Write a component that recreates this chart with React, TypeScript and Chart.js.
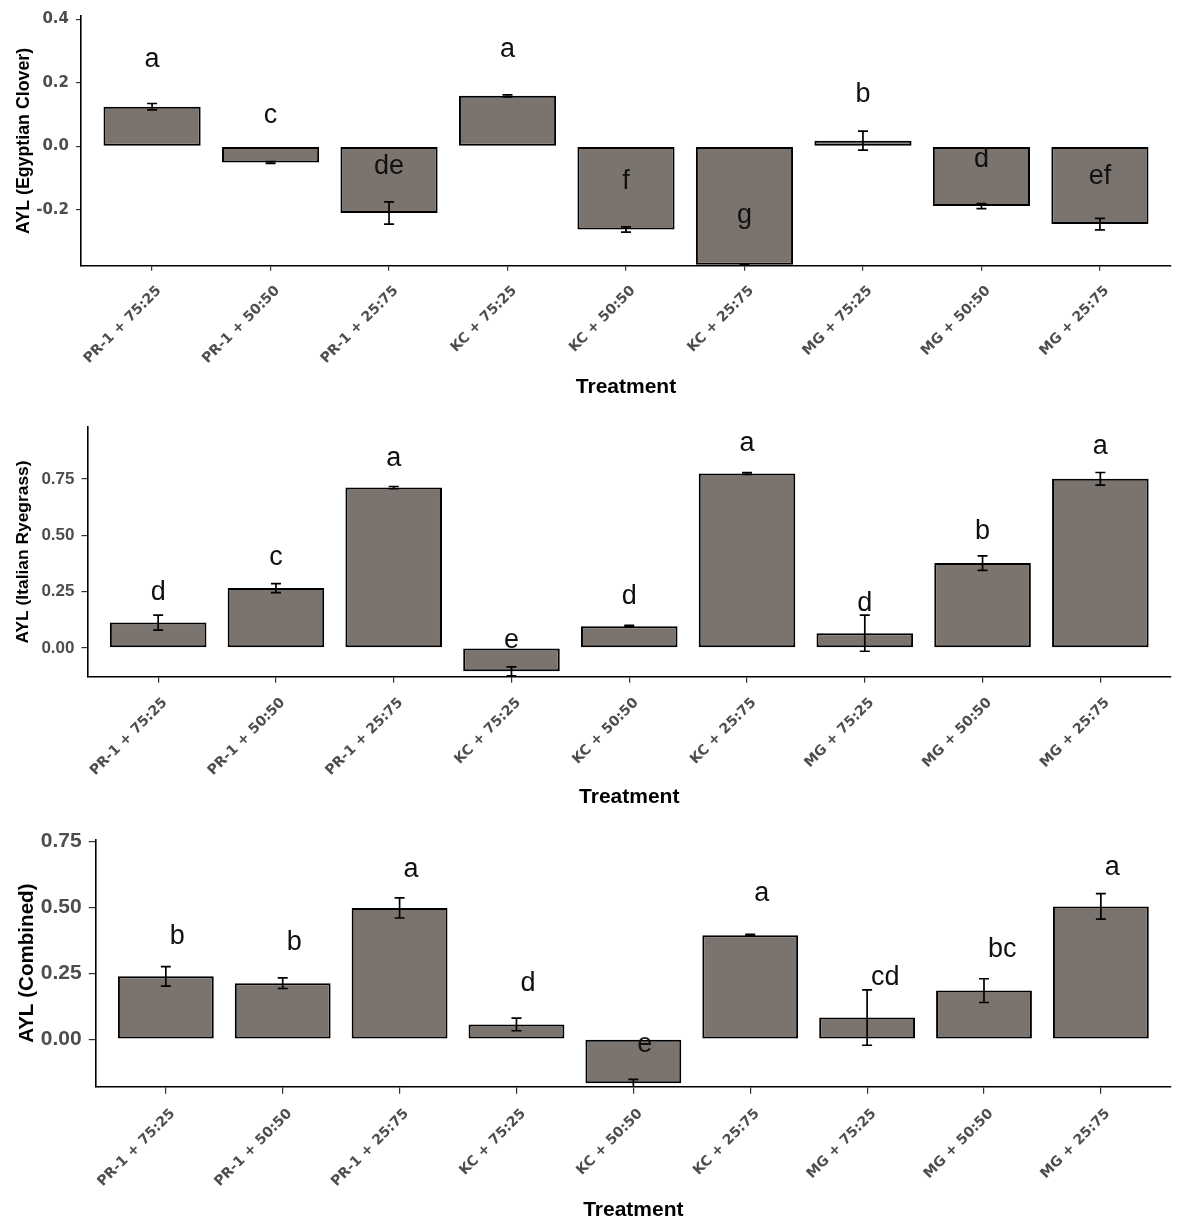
import React, { useEffect, useRef } from 'react';
import { Chart, registerables } from 'chart.js';

Chart.register(...registerables);

// treatments shared by the three panels
const treatments = [
  'PR-1 + 75:25', 'PR-1 + 50:50', 'PR-1 + 25:75',
  'KC + 75:25', 'KC + 50:50', 'KC + 25:75',
  'MG + 75:25', 'MG + 50:50', 'MG + 25:75',
];

// AYL Egyptian clover
const cloverMean = [0.125, -0.051, -0.21, 0.159, -0.262, -0.373, 0.018, -0.188, -0.245];
const cloverErr = [0.01, 0.003, 0.035, 0.003, 0.008, 0.003, 0.03, 0.008, 0.018];
const cloverLetters = ['a', 'c', 'de', 'a', 'f', 'g', 'b', 'd', 'ef'];
const cloverLetterY = [0.249, 0.073, -0.088, 0.283, -0.135, -0.24, 0.14, -0.065, -0.119];
const cloverTicks = [-0.2, 0, 0.2, 0.4];

// AYL Italian ryegrass
const ryegrassMean = [0.112, 0.265, 0.711, -0.104, 0.096, 0.774, 0.065, 0.376, 0.75];
const ryegrassErr = [0.033, 0.02, 0.005, 0.02, 0.004, 0.004, 0.08, 0.032, 0.028];
const ryegrassLetters = ['d', 'c', 'a', 'e', 'd', 'a', 'd', 'b', 'a'];
const ryegrassLetterY = [0.214, 0.367, 0.809, 0.0, 0.195, 0.872, 0.163, 0.483, 0.858];
const ryegrassTicks = [0, 0.25, 0.5, 0.75];

// AYL combined
const combinedMean = [0.238, 0.212, 0.497, 0.056, -0.167, 0.394, 0.082, 0.184, 0.503];
const combinedErr = [0.037, 0.02, 0.038, 0.024, 0.015, 0.003, 0.105, 0.045, 0.048];
const combinedLetters = ['b', 'b', 'a', 'd', 'e', 'a', 'cd', 'bc', 'a'];
const combinedLetterY = [0.359, 0.337, 0.616, 0.182, -0.05, 0.523, 0.2045, 0.312, 0.623];
const combinedTicks = [0, 0.25, 0.5, 0.75];

const BAR_FILL = '#7a736e';
const TICK_GREY = '#4d4d4d';
const ARIAL = '"Liberation Sans", Arial, sans-serif';
const DEJAVU = '"DejaVu Sans", Verdana, sans-serif';

interface PanelProps {
  top: number;
  height: number;
  axisLeft: number;
  plotTop: number;
  plotBottom: number;
  yMin: number;
  yMax: number;
  yTicks: number[];
  decimals: number;
  yTickFont: { family: string; size: number };
  yTitle: string;
  yTitleSize: number;
  yTitleX: number;
  xTitleY: number;
  tickLength: number;
  means: number[];
  errors: number[];
  letters: string[];
  letterY: number[];
  letterAlign: 'center' | 'left';
}

function Panel(p: PanelProps) {
  const canvasRef = useRef<HTMLCanvasElement | null>(null);

  useEffect(() => {
    if (!canvasRef.current) return;

    // error bars + significance letters
    const annotate = {
      id: 'annotate',
      afterDatasetsDraw(chart: Chart) {
        const { ctx, chartArea, scales } = chart;
        const x = scales.x;
        const y = scales.y;
        ctx.save();
        ctx.beginPath();
        ctx.rect(chartArea.left, chartArea.top, chartArea.right - chartArea.left, chartArea.bottom - chartArea.top);
        ctx.clip();
        ctx.strokeStyle = '#000';
        ctx.lineWidth = 1.7;
        p.means.forEach((m, i) => {
          const px = x.getPixelForValue(i + 1);
          const hi = y.getPixelForValue(m + p.errors[i]);
          const lo = y.getPixelForValue(m - p.errors[i]);
          ctx.beginPath();
          ctx.moveTo(px, hi);
          ctx.lineTo(px, lo);
          ctx.moveTo(px - 5, hi);
          ctx.lineTo(px + 5, hi);
          ctx.moveTo(px - 5, lo);
          ctx.lineTo(px + 5, lo);
          ctx.stroke();
        });
        ctx.restore();

        ctx.save();
        ctx.fillStyle = '#111';
        ctx.font = `27px ${ARIAL}`;
        ctx.textAlign = p.letterAlign;
        ctx.textBaseline = 'alphabetic';
        p.letters.forEach((l, i) => {
          const px = x.getPixelForValue(i + 1) + (p.letterAlign === 'left' ? 4 : 0);
          ctx.fillText(l, px, y.getPixelForValue(p.letterY[i]));
        });
        ctx.restore();
      },
    };

    const xTitleLine = 21 * 1.2;
    const yTitleLine = p.yTitleSize * 1.2;

    const chart = new Chart(canvasRef.current, {
      type: 'bar',
      data: {
        datasets: [
          {
            data: p.means.map((v, i) => ({ x: i + 1, y: v })),
            backgroundColor: BAR_FILL,
            borderColor: '#000',
            borderWidth: 2,
            borderSkipped: false,
            barPercentage: 0.82,
            categoryPercentage: 1,
          },
        ],
      },
      options: {
        responsive: false,
        animation: false,
        events: [],
        layout: { padding: { top: p.plotTop, right: 10, bottom: 0, left: 0 } },
        plugins: { legend: { display: false }, tooltip: { enabled: false } },
        scales: {
          x: {
            type: 'linear',
            min: 0.4,
            max: 9.6,
            offset: false,
            afterBuildTicks: (axis: any) => {
              axis.ticks = treatments.map((_, i) => ({ value: i + 1 }));
            },
            afterFit: (axis: any) => {
              axis.height = p.height - p.plotBottom;
            },
            border: { color: '#000', width: 1.6 },
            grid: { offset: false, drawOnChartArea: false, tickLength: p.tickLength, color: '#333', lineWidth: 1.2 },
            ticks: {
              autoSkip: false,
              minRotation: 45,
              maxRotation: 45,
              padding: 12,
              labelOffset: 7,
              color: TICK_GREY,
              font: { family: DEJAVU, size: 14, weight: 'bold' },
              callback: (v: any) => treatments[Number(v) - 1] ?? '',
            },
            title: {
              display: true,
              text: 'Treatment',
              color: '#000',
              font: { family: ARIAL, size: 21, weight: 'bold' },
              padding: { top: 0, bottom: p.height - p.xTitleY - xTitleLine / 2 },
            },
          },
          y: {
            min: p.yMin,
            max: p.yMax,
            afterBuildTicks: (axis: any) => {
              axis.ticks = p.yTicks.map((v) => ({ value: v }));
            },
            afterFit: (axis: any) => {
              axis.width = p.axisLeft;
            },
            border: { color: '#000', width: 1.6 },
            grid: { drawOnChartArea: false, tickLength: p.tickLength, color: '#333', lineWidth: 1.2 },
            ticks: {
              padding: 7,
              color: TICK_GREY,
              font: { family: p.yTickFont.family, size: p.yTickFont.size, weight: 'bold' },
              callback: (v: any) => Number(v).toFixed(p.decimals),
            },
            title: {
              display: true,
              text: p.yTitle,
              color: '#000',
              font: { family: ARIAL, size: p.yTitleSize, weight: 'bold' },
              padding: { top: p.yTitleX - yTitleLine / 2, bottom: 0 },
            },
          },
        },
      },
      plugins: [annotate],
    } as any);

    return () => chart.destroy();
  }, [p]);

  return (
    <canvas
      ref={canvasRef}
      width={1181}
      height={p.height}
      style={{ position: 'absolute', left: 0, top: p.top, width: 1181, height: p.height }}
    />
  );
}

export default function App() {
  return (
    <div style={{ position: 'absolute', left: 0, top: 0, width: 1181, height: 1227, background: '#fff' }}>
      <Panel
        top={0}
        height={410}
        axisLeft={81}
        plotTop={13.3}
        plotBottom={265.7}
        yMin={-0.376}
        yMax={0.4106}
        yTicks={cloverTicks}
        decimals={1}
        yTickFont={{ family: DEJAVU, size: 15 }}
        yTitle="AYL (Egyptian Clover)"
        yTitleSize={17.8}
        yTitleX={24}
        xTitleY={387}
        tickLength={5}
        means={cloverMean}
        errors={cloverErr}
        letters={cloverLetters}
        letterY={cloverLetterY}
        letterAlign="center"
      />
      <Panel
        top={410}
        height={410}
        axisLeft={87.5}
        plotTop={13.3}
        plotBottom={266.7}
        yMin={-0.128}
        yMax={0.979}
        yTicks={ryegrassTicks}
        decimals={2}
        yTickFont={{ family: ARIAL, size: 17 }}
        yTitle="AYL (Italian Ryegrass)"
        yTitleSize={17.4}
        yTitleX={23}
        xTitleY={387.7}
        tickLength={6}
        means={ryegrassMean}
        errors={ryegrassErr}
        letters={ryegrassLetters}
        letterY={ryegrassLetterY}
        letterAlign="center"
      />
      <Panel
        top={820}
        height={407}
        axisLeft={95.7}
        plotTop={15}
        plotBottom={266.7}
        yMin={-0.18}
        yMax={0.756}
        yTicks={combinedTicks}
        decimals={2}
        yTickFont={{ family: ARIAL, size: 21 }}
        yTitle="AYL (Combined)"
        yTitleSize={20.6}
        yTitleX={27}
        xTitleY={390.7}
        tickLength={7}
        means={combinedMean}
        errors={combinedErr}
        letters={combinedLetters}
        letterY={combinedLetterY}
        letterAlign="left"
      />
    </div>
  );
}
